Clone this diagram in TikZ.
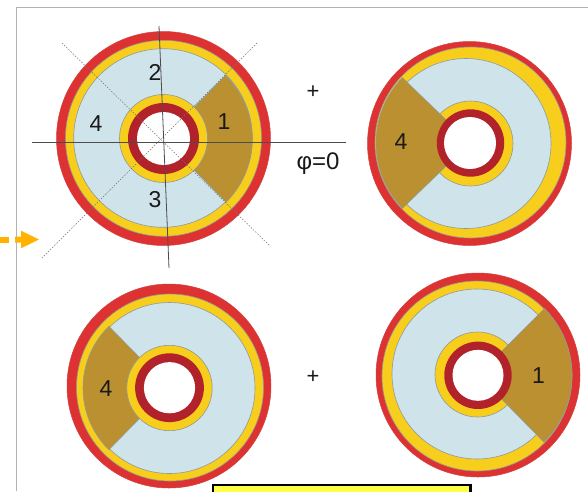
\documentclass[tikz,border=0pt]{standalone}
\usepackage{fontspec}
\setmainfont{Liberation Sans}
\definecolor{rimred}{HTML}{DE3232}
\definecolor{ringyel}{HTML}{F7CE1B}
\definecolor{paleblue}{HTML}{CFE3EB}
\definecolor{wedgebrown}{HTML}{BA9030}
\definecolor{darkred}{HTML}{B2222B}
\definecolor{edgegray}{HTML}{8F9A9A}
\definecolor{arroworange}{HTML}{FFB300}
\definecolor{boxyellow}{HTML}{FFFF45}
\tikzset{
  rim/.style={fill=rimred,draw=rimred!80!gray,line width=0.5pt},
  ringy/.style={fill=ringyel,draw=edgegray,line width=0.6pt},
  pale/.style={fill=paleblue,draw=edgegray,line width=0.6pt},
  brown/.style={fill=wedgebrown,draw=edgegray,line width=0.6pt},
  innerred/.style={fill=darkred,draw=none},
  hole/.style={fill=white,draw=none},
  axisline/.style={draw=black!70,line width=0.8pt},
  diag/.style={draw=black!55,line width=0.5pt,dash pattern=on 1.5pt off 1.5pt},
  lab/.style={font=\fontsize{23}{23}\selectfont,inner sep=0pt,text=black!90}
}
\begin{document}
\begin{tikzpicture}[x=1pt,y=-1pt]
\useasboundingbox (0,0) rectangle (588,491);
\fill[white] (0,0) rectangle (588,491);
% frame
\draw[black!30,line width=0.8pt] (16,491) -- (16,7) -- (588,7);
% disk 1
\draw[rim] (163.5,138.5) circle[radius=107pt];
\draw[ringy] (163.5,138.3) circle[radius=98pt];
\draw[pale] (163,138) circle[radius=89.3pt];
\draw[brown] (163,139) ++(-45:89.3pt) arc[start angle=-45,end angle=45.5,radius=89.3pt] -- (163,139) -- cycle;
\draw[ringy] (163.5,138.5) circle[radius=44pt];
\fill[innerred] (163.5,138.5) circle[radius=35.5pt];
\fill[hole] (163.5,138.5) circle[radius=26.5pt];
\draw[diag] (62,43) -- (270,246);
\draw[diag] (257,43) -- (42,258);
\draw[axisline] (32,142) -- (346,142);
\draw[axisline] (159,26) -- (169,268);
\node[lab] (n2) at (155,72) {2};
\node[lab] (n4a) at (96,124) {4};
\node[lab] (n1a) at (224,122) {1};
\node[lab] (n3) at (155,200) {3};
\node[lab,font=\fontsize{22}{22}\selectfont] (plusa) at (313,92) {+};
\node[lab,font=\fontsize{24}{24}\selectfont] (phi) at (318,164) {φ=0};
% disk 2
\draw[rim] (469.5,143.5) circle[radius=102pt];
\draw[ringy] (470.5,142.5) circle[radius=95.5pt];
\draw[pale] (466,143.5) circle[radius=85pt];
\draw[ringy] (470.5,143.5) circle[radius=42.5pt];
\draw[brown] (470,143) ++(136:94pt) arc[start angle=136,end angle=224,radius=94pt] -- (470,143) -- cycle;
\fill[innerred] (470.5,143) circle[radius=33.7pt];
\fill[hole] (470,143) circle[radius=26pt];
\node[lab] (n4b) at (401,142) {4};
% disk 3
\draw[rim] (169,386) circle[radius=102pt];
\draw[ringy] (170,387.5) circle[radius=93.5pt];
\draw[pale] (169.5,388) circle[radius=85.5pt];
\draw[brown] (169.5,388) ++(134.5:86.5pt) arc[start angle=134.5,end angle=225.5,radius=86.5pt] -- (169.5,388) -- cycle;
\draw[ringy] (169.5,388) circle[radius=42.7pt];
\fill[innerred] (169.5,387.7) circle[radius=34.4pt];
\fill[hole] (169.5,387.7) circle[radius=25.6pt];
\node[lab] (n4c) at (106,389) {4};
\node[lab,font=\fontsize{22}{22}\selectfont] (plusb) at (313,377) {+};
% disk 4
\draw[rim] (478,375) circle[radius=102pt];
\draw[ringy] (477,376) circle[radius=95pt];
\draw[pale] (477,374) circle[radius=85pt];
\draw[ringy] (477.5,374.5) circle[radius=42.5pt];
\draw[brown] (478,375) ++(-45.5:94pt) arc[start angle=-45.5,end angle=45,radius=94pt] -- (478,375) -- cycle;
\fill[innerred] (478,375.3) circle[radius=33.7pt];
\fill[hole] (478,375.3) circle[radius=25.5pt];
\node[lab] (n1b) at (538.5,376) {1};
% arrow
\fill[arroworange] (0,236.7) rectangle (9,242.7);
\fill[arroworange] (15,236.7) -- (21,236.7) -- (21,230.7) -- (39,239.5) -- (21,248.3) -- (21,242.7) -- (15,242.7) -- cycle;
% box
\draw[fill=boxyellow,draw=black,line width=2.2pt] (213,494) -- (213,485) -- (470.5,485) -- (470.5,494);
\end{tikzpicture}
\end{document}
